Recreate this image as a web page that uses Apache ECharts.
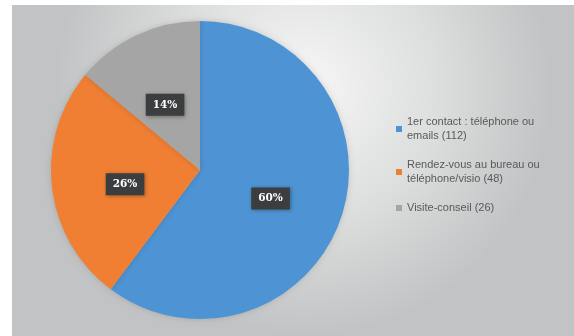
<!DOCTYPE html>
<html>
<head>
<meta charset="utf-8">
<style>
  html, body { margin: 0; padding: 0; background: #ffffff; }
  #chart { width: 574px; height: 336px; }
</style>
<script src="https://cdn.jsdelivr.net/npm/echarts@6/dist/echarts.min.js"></script>
</head>
<body>
<div id="chart"></div>
<script>
// Modes de contact et nombre de demandes
const categories = [
  '1er contact : téléphone ou\nemails',
  'Rendez-vous au bureau ou\ntéléphone/visio',
  'Visite-conseil'
];
const counts = [112, 48, 26];
const sliceColors = ['#4E94D4', '#F07F33', '#A5A5A5'];

// small nudges of the percentage boxes
const labelShift = [[-3, 4], [2, 5], [-2, 5]];

const chart = echarts.init(document.getElementById('chart'), null, { renderer: 'canvas' });

const pieData = categories.map((name, i) => ({
  name: name,
  value: counts[i],
  itemStyle: { color: sliceColors[i] }
}));

chart.setOption({
  animation: false,
  graphic: [{
    type: 'rect',
    z: -10,
    silent: true,
    shape: { x: 12, y: 5, width: 562, height: 331 },
    style: {
      fill: {
        type: 'radial', x: 0.52, y: 0.25, r: 0.75,
        colorStops: [
          { offset: 0, color: '#f7f7f7' },
          { offset: 0.55, color: '#dcdddd' },
          { offset: 1, color: '#c1c3c4' }
        ]
      }
    }
  }],
  legend: {
    orient: 'vertical',
    left: 391,
    top: 110,
    itemWidth: 6,
    itemHeight: 6,
    itemGap: 15,
    icon: 'rect',
    data: categories,
    formatter: function (name) {
      const i = categories.indexOf(name);
      return name + ' (' + counts[i] + ')';
    },
    textStyle: {
      color: '#595959',
      fontFamily: 'Liberation Sans',
      fontSize: 11,
      lineHeight: 14
    }
  },
  series: [{
    type: 'pie',
    center: [200, 170],
    radius: 149,
    startAngle: 90,
    clockwise: true,
    data: pieData,
    itemStyle: {
      shadowBlur: 6,
      shadowColor: 'rgba(0,0,0,0.15)'
    },
    label: {
      position: 'inside',
      formatter: function (p) { return Math.round(p.percent) + '%'; },
      color: '#ffffff',
      fontFamily: 'DejaVu Serif',
      fontWeight: 'bold',
      fontSize: 10.5,
      backgroundColor: '#3b3d3f',
      padding: [6, 7, 5, 7],
      shadowBlur: 4,
      shadowColor: 'rgba(0,0,0,0.35)',
      shadowOffsetX: 1,
      shadowOffsetY: 1
    },
    labelLine: { show: false },
    labelLayout: function (params) {
      const s = labelShift[params.dataIndex];
      return { dx: s[0], dy: s[1] };
    },
    emphasis: { disabled: true }
  }]
});
</script>
</body>
</html>
